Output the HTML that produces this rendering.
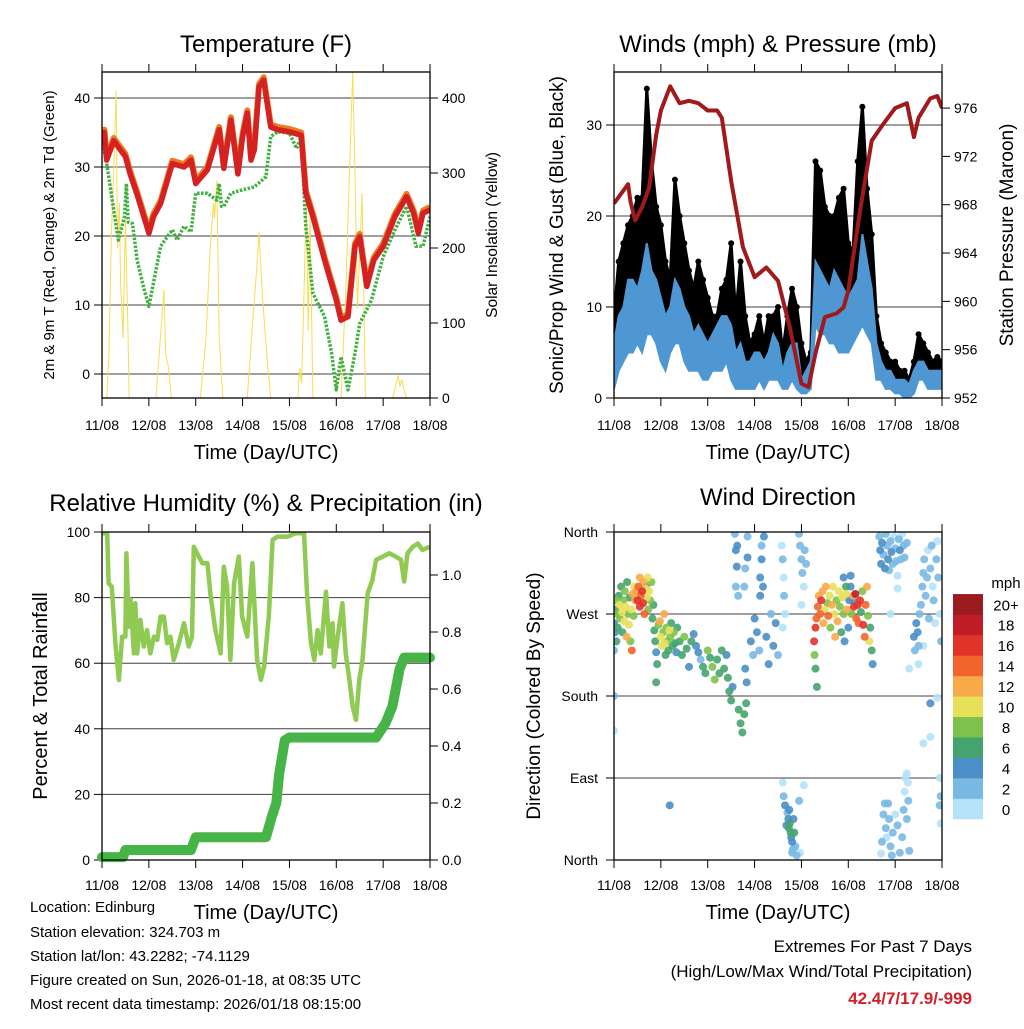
<!DOCTYPE html>
<html><head><meta charset="utf-8">
<style>
body{margin:0;background:#fff;}
svg text{font-family:"Liberation Sans",Arial,sans-serif;fill:#000;}
</style></head>
<body>
<svg id="fig" width="1024" height="1024" viewBox="0 0 1024 1024" xmlns="http://www.w3.org/2000/svg">
<rect width="1024" height="1024" fill="#fff"/>
<g id="p1"></g>
<g id="p2"></g>
<g id="p3"></g>
<g id="p4"></g>
<g font-size="24">
<text x="266" y="52" text-anchor="middle">Temperature (F)</text>
<text x="778" y="52" text-anchor="middle">Winds (mph) &amp; Pressure (mb)</text>
<text x="266" y="511" text-anchor="middle">Relative Humidity (%) &amp; Precipitation (in)</text>
<text x="778" y="505" text-anchor="middle">Wind Direction</text>
</g>
<g font-size="20">
<text x="266" y="459" text-anchor="middle">Time (Day/UTC)</text>
<text x="778" y="459" text-anchor="middle">Time (Day/UTC)</text>
<text x="266" y="919" text-anchor="middle">Time (Day/UTC)</text>
<text x="778" y="919" text-anchor="middle">Time (Day/UTC)</text>
</g>
<text transform="translate(54,235) rotate(-90)" font-size="15" text-anchor="middle">2m &amp; 9m T (Red, Orange) &amp; 2m Td (Green)</text>
<text transform="translate(497,235) rotate(-90)" font-size="15.5" text-anchor="middle">Solar Insolation (Yellow)</text>
<text transform="translate(563,235) rotate(-90)" font-size="19" text-anchor="middle">Sonic/Prop Wind &amp; Gust (Blue, Black)</text>
<text transform="translate(1013,235) rotate(-90)" font-size="19" text-anchor="middle">Station Pressure (Maroon)</text>
<text transform="translate(47,696) rotate(-90)" font-size="20" text-anchor="middle">Percent &amp; Total Rainfall</text>
<text transform="translate(540,696) rotate(-90)" font-size="19" text-anchor="middle">Direction (Colored By Speed)</text>
<g font-size="15">
<text x="30" y="912">Location: Edinburg</text>
<text x="30" y="937">Station elevation: 324.703 m</text>
<text x="30" y="961">Station lat/lon: 43.2282; -74.1129</text>
<text x="30" y="985">Figure created on Sun, 2026-01-18, at 08:35 UTC</text>
<text x="30" y="1009">Most recent data timestamp: 2026/01/18 08:15:00</text>
</g>
<g font-size="17" text-anchor="end">
<text x="972" y="952">Extremes For Past 7 Days</text>
<text x="972" y="977">(High/Low/Max Wind/Total Precipitation)</text>
<text x="972" y="1004" font-weight="bold" style="fill:#d0202a">42.4/7/17.9/-999</text>
</g>
</svg>
<script>
// ---------- DATA ----------
const dayLabels=["11/08","12/08","13/08","14/08","15/08","16/08","17/08","18/08"];
const tempTicks=[0,10,20,30,40];
const solarTicks=[0,100,200,300,400];
const tT=[0,0.05,0.1,0.25,0.5,0.6,0.75,1.0,1.1,1.25,1.5,1.75,1.9,2.0,2.25,2.5,2.6,2.75,2.9,3.0,3.1,3.18,3.25,3.35,3.45,3.6,3.75,4.0,4.25,4.35,4.5,4.75,5.0,5.1,5.25,5.4,5.5,5.65,5.8,6.0,6.25,6.5,6.65,6.75,6.85,7.0];
const tempVals=[33.2,35,31,33.8,31.5,29,26,20.4,22.8,24.7,30.5,30,31,27.6,29.6,35.4,29.8,36.8,29,34.4,37.8,31,32.5,41.6,42.6,35.8,35.4,35.1,34.6,26.2,22.8,16.5,10.7,7.8,8.3,18.5,19.9,12.7,16.5,18.5,22.8,25.7,23.3,20.4,23.3,23.8];
const tD=[0,0.1,0.25,0.35,0.48,0.52,0.56,0.65,0.75,0.9,1.0,1.25,1.5,1.6,1.75,1.9,2.0,2.25,2.45,2.5,2.55,2.6,2.75,3.0,3.25,3.5,3.6,3.75,4.0,4.15,4.25,4.35,4.5,4.75,4.9,5.0,5.1,5.25,5.4,5.5,5.75,6.0,6.25,6.5,6.7,6.85,7.0];
const dewVals=[33.9,30.5,23.8,19.4,22.8,27.6,22,21.8,16.5,12.2,9.8,18.5,20.9,19.4,21.4,20.6,26.2,26.2,25.2,27.6,24.3,24.3,26.2,26.7,27.1,28.6,34.4,35.1,34.9,32.7,34.4,21.4,11.7,8.3,3.0,-2.3,2.5,-2.3,3.0,7.3,10.7,17.0,20.9,24.3,18.5,18.5,22.8];
const tS=[0,0.1,0.15,0.2,0.25,0.3,0.33,0.37,0.4,0.45,0.5,0.55,0.58,1.15,1.2,1.28,1.32,1.36,1.42,1.48,2.1,2.22,2.3,2.38,2.4,2.45,2.5,2.58,3.1,3.2,3.3,3.35,3.42,3.5,3.6,4.18,4.22,4.26,4.32,4.36,4.4,4.44,4.5,5.1,5.2,5.28,5.35,5.4,5.45,5.55,5.62,6.2,6.28,6.32,6.36,6.4,6.45,6.5,7];
const solarVals=[0,0,60,220,300,410,200,260,150,80,240,100,0,0,40,110,144,60,40,0,0,80,190,260,240,290,80,0,0,90,170,221,140,70,0,0,40,20,160,273,90,240,0,0,140,300,435,300,120,273,0,0,20,30,15,25,10,0,0];

const windTicks=[0,10,20,30];
const presTicks=[952,956,960,964,968,972,976];
const tW=[0,0.1,0.2,0.3,0.4,0.5,0.6,0.7,0.8,0.9,1.0,1.1,1.2,1.3,1.4,1.5,1.6,1.7,1.8,1.9,2.0,2.1,2.2,2.3,2.4,2.5,2.6,2.7,2.8,2.9,3.0,3.1,3.2,3.3,3.4,3.5,3.6,3.7,3.8,3.9,4.0,4.1,4.2,4.3,4.4,4.5,4.6,4.7,4.8,4.9,5.0,5.1,5.2,5.3,5.4,5.5,5.6,5.7,5.8,5.9,6.0,6.1,6.2,6.3,6.4,6.5,6.6,6.7,6.8,6.9,7.0];
const windLo=[1,3,4,5,5,6,5,7,7,6,4,3,5,6,6,4,3,3,3,2,2,3,3,3,4,2,1,1,1,1,1,2,1,2,2,2,1,1,2,1,0.5,0.5,1,8,7,7,6,6,5,5,5,6,7,8,7,6,2,2,1,1,0.5,0.5,0,0,0.5,2,2,1,1,1,1];
const windHi=[6,9,10,13,13,12,14,17,14,13,11,9,10,13,12,10,9,7,8,7,6,7,8,9,9,8,5,6,4,4,5,5,4,5,7,6,3,5,6,6,2,3,4,15,14,13,12,14,13,12,11,12,13,18,15,12,6,4,3,3,2,2,2,1.5,3,4,4,3,3,3,3];
const gustHi=[9,15,17,19,20,22,22,34,26,21,19,15,13,24,20,17,14,12,15,13,11,9,9,12,13,17,9,15,9,6,7,9,6,9,9,10,5,9,12,10,6,4,5,26,25,21,20,20,22,23,17,16,26,32,23,18,9,6,5,4,4,3,3,2,4,7,6,5,4,4.5,4];
const tP=[0,0.15,0.3,0.35,0.45,0.6,0.75,0.9,1.0,1.2,1.4,1.6,1.8,2.0,2.2,2.3,2.5,2.75,3.0,3.25,3.5,3.75,4.0,4.15,4.3,4.5,4.75,4.9,5.0,5.25,5.5,5.75,6.0,6.25,6.4,6.5,6.75,6.9,7.0];
const presVals=[968.1,968.9,969.7,968.3,966.7,967.8,969.4,973.8,975.8,977.8,976.4,976.6,976.4,975.8,975.8,975.2,970,964.5,962,962.8,961.7,957.9,953.2,952.9,955.7,958.7,959,959.5,960.9,967.5,973.3,974.7,976,976.4,973.6,975.2,976.8,977,976];

const rhTicks=[0,20,40,60,80,100];
const rainTicks=["0.0","0.2","0.4","0.6","0.8","1.0"];
const tR=[0,0.11,0.14,0.21,0.29,0.36,0.43,0.5,0.52,0.57,0.61,0.68,0.71,0.75,0.82,0.89,0.96,1.03,1.11,1.18,1.25,1.32,1.39,1.46,1.53,1.64,1.75,1.85,1.92,1.96,2.03,2.14,2.25,2.32,2.42,2.53,2.6,2.67,2.74,2.82,2.92,2.99,3.1,3.21,3.31,3.39,3.46,3.56,3.64,3.74,3.96,4.13,4.31,4.38,4.46,4.53,4.6,4.67,4.78,4.85,4.92,4.95,5.03,5.13,5.2,5.27,5.35,5.42,5.49,5.56,5.67,5.77,5.85,5.99,6.13,6.27,6.38,6.45,6.52,6.63,6.74,6.84,6.99];
const rhVals=[99.6,99.6,84.4,83.3,65.1,54.9,68.1,68.1,93.5,71.1,79.3,63,78.3,63,73.2,65.1,70.1,63,68.1,67.1,74.2,74.2,66.1,68.1,61,66.1,72.2,65.1,68.1,95.5,93.5,90.5,90.5,80.3,70.1,63,89.4,83.3,61,84.4,92.5,74.2,68.1,90.5,61,54.9,59,74.2,97.6,98.6,98.6,99.6,99.6,80.3,66.1,61,70.1,63,81.8,65.1,72.2,59,68.1,78.3,63,55.9,46.8,42.7,54.9,61,81.3,85.4,91.5,92.5,93.5,92.5,91.5,84.9,93.5,95.5,96.5,94.5,95.5];
const tPr=[0,0.45,0.5,1.9,2.0,3.5,3.62,3.72,3.78,3.9,4.0,5.85,6.05,6.2,6.35,6.45,6.6,7.0];
const rainVals=[0.01,0.01,0.035,0.035,0.08,0.08,0.15,0.2,0.3,0.42,0.43,0.43,0.48,0.54,0.67,0.71,0.71,0.71];

const dirNames=["North","East","South","West","North"];
const dirTickVals=[0,90,180,270,360];
const spdLabels=["0","2","4","6","8","10","12","14","16","18","20+"];
const spdColors=["#b5e2f8","#7ab9e4","#4a8fc6","#45a46e","#7dc24c","#e8e05a","#f8a94a","#f2642c","#e0332a","#c01c25","#9b1b1f"];
const wdT=[0,0,0,0.0,0.02,0.03,0.05,0.07,0.08,0.1,0.12,0.13,0.15,0.17,0.18,0.2,0.22,0.23,0.25,0.27,0.28,0.3,0.32,0.33,0.35,0.37,0.38,0.4,0.42,0.43,0.45,0.05,
0.47,0.5,0.52,0.55,0.57,0.6,0.62,0.63,0.65,0.67,0.7,0.72,0.73,0.75,0.77,0.8,0.82,0.84,0.55,0.68,
0.86,0.88,0.9,0.92,0.95,0.98,1.0,1.02,1.05,1.07,1.08,1.1,1.12,1.14,1.16,1.18,1.2,1.22,1.25,1.28,1.3,1.33,1.35,0.9,1.19,
1.4,1.45,1.5,1.55,1.6,1.65,1.7,1.75,1.8,1.85,1.9,1.95,2.0,2.05,2.1,2.15,2.2,2.25,2.3,2.35,2.4,2.43,2.46,2.5,2.53,2.66,2.7,2.74,2.78,2.82,2.8,2.83,
2.58,2.6,2.62,2.6,2.63,2.65,2.85,2.8,2.78,2.85,
2.92,2.97,3.0,3.05,3.1,3.12,3.15,3.2,3.25,3.3,3.35,3.4,3.45,3.5,3.12,3.15,3.18,
3.58,3.6,3.62,3.63,3.65,3.6,
3.6,3.62,3.65,3.7,3.72,3.73,3.75,3.77,3.78,3.8,3.82,3.83,3.85,3.87,3.9,3.95,3.97,4.05,3.68,3.74,3.8,
3.95,3.97,4.0,4.02,4.05,4.07,4.1,4.0,
4.27,4.28,4.3,4.3,4.32,4.33,4.35,4.37,4.4,4.42,4.45,4.47,4.5,4.52,4.55,4.57,4.6,4.62,4.65,4.67,4.7,4.72,4.75,4.77,4.8,4.82,4.85,4.87,4.9,4.92,4.95,4.97,5.0,5.02,5.05,5.07,5.1,5.12,5.15,5.17,5.2,5.22,5.25,5.27,5.3,5.32,5.35,5.37,5.4,5.42,5.45,5.47,5.5,5.52,4.9,4.95,5.05,5.1,
5.66,5.68,5.7,5.72,5.75,5.78,5.8,5.83,5.85,5.87,5.9,5.92,5.95,5.98,6.0,6.02,6.05,6.08,6.1,6.12,6.15,6.18,6.2,6.25,5.9,6.05,
5.7,5.72,5.75,5.78,5.8,5.82,5.85,5.87,5.9,5.93,5.95,6.0,6.05,6.1,6.15,6.18,6.2,6.22,6.25,6.28,6.3,6.27,6.25,
6.3,6.4,6.42,6.45,6.48,6.5,6.52,6.55,6.58,6.6,6.62,6.65,6.68,6.7,6.72,6.75,6.78,6.8,6.82,6.85,6.88,6.9,6.92,6.95,6.98,6.6,6.5,6.75,6.75,6.9,6.95,6.97,6.97,6.95,6.6];
const wdDir=[230,180,142,260,250,275,285,270,255,290,280,265,300,272,250,285,262,295,278,245,305,270,258,288,240,275,230,292,268,300,285,240,
295,285,300,278,290,295,282,305,270,298,288,310,275,295,285,305,265,280,310,300,
252,240,228,215,258,262,245,235,250,270,238,225,255,240,230,252,245,260,235,250,238,228,255,195,60,
240,225,245,232,212,240,248,235,228,220,212,205,230,222,212,198,220,205,230,210,225,200,185,175,190,165,150,140,160,172,210,195,
358,340,322,300,345,290,355,320,300,332,
240,225,265,250,230,290,330,355,245,215,270,235,260,225,310,345,300,
345,330,310,290,270,255,
85,70,60,52,45,35,40,30,25,20,12,45,30,15,5,65,8,82,38,55,8,
358,345,330,315,300,340,325,280,
240,225,210,255,265,190,278,290,270,285,295,260,275,300,282,268,290,255,280,300,270,245,285,262,295,278,250,288,270,240,292,275,255,285,300,270,290,278,292,265,280,260,285,272,295,258,245,280,300,268,240,255,230,215,310,300,312,285,
355,340,325,348,335,320,358,345,330,318,350,338,325,355,342,328,312,352,340,330,358,345,332,348,270,298,
7,20,50,62,35,25,62,45,15,5,30,50,38,8,25,55,75,90,45,65,10,85,95,
210,245,230,260,250,235,270,280,300,315,330,290,310,340,265,320,345,300,285,260,330,350,310,270,240,235,215,172,135,178,60,40,70,90,128];
const wdSpd=[2,2,1,4,4,6,8,9,7,6,10,8,7,10,6,9,11,8,10,12,6,8,10,7,9,11,14,12,8,10,12,6,
13,16,15,17,14,17,16,12,15,11,10,10,9,11,8,8,7,6,13,6,
6,6,5,6,8,13,10,11,9,12,10,7,9,8,6,10,8,6,7,8,6,5,7,6,4,
6,7,8,6,5,6,5,4,5,3,6,7,8,6,8,9,7,6,6,6,4,7,6,7,5,6,7,6,6,7,4,4,
2,4,4,3,5,2,2,3,2,4,
4,3,4,4,3,4,4,4,5,4,3,4,4,3,4,3,4,
1,2,1,2,1,1,
1,2,4,3,5,6,7,6,5,4,3,4,6,2,2,2,1,1,4,4,2,
2,3,2,3,1,2,2,1,
16,8,6,17,14,6,15,12,14,16,13,12,10,12,9,15,10,9,12,10,11,13,8,12,10,9,7,11,8,4,10,12,5,5,4,8,12,16,18,15,17,14,16,7,9,16,14,15,12,8,10,6,7,4,4,6,4,4,
3,4,4,4,3,4,3,2,4,3,2,4,2,1,2,3,1,2,4,3,1,2,3,2,1,1,
1,3,2,3,2,1,2,3,2,3,2,1,2,2,3,2,1,1,2,2,3,1,1,
1,4,3,4,4,3,2,2,3,2,2,3,2,1,2,3,2,1,2,1,2,1,2,1,2,1,1,4,1,1,2,1,2,1,1];

// ---------- HELPERS ----------
const NS="http://www.w3.org/2000/svg";
function mk(parent,tag,attrs){const e=document.createElementNS(NS,tag);for(const k in attrs)e.setAttribute(k,attrs[k]);parent.appendChild(e);return e;}
function txt(parent,x,y,s,anchor,size){const t=mk(parent,"text",{x:x,y:y,"text-anchor":anchor,"font-size":size});t.textContent=s;return t;}
const DAYW=46.86;
function frame(g,x0,y0,x1,y1,xlabY){
  for(let i=0;i<dayLabels.length;i++){
    const x=x0+i*DAYW;
    const tk=mk(g,"line",{x1:x,y1:y1,x2:x,y2:y1+8,stroke:"#000","stroke-width":1});
    
    
    mk(g,"line",{x1:x,y1:y0,x2:x,y2:y0-8,stroke:"#000","stroke-width":1});
    const t=txt(g,x,xlabY,dayLabels[i],"middle",14);
    
    
  }
}
function border(g,x0,y0,x1,y1){const r=mk(g,"rect",{x:x0,y:y0,width:x1-x0,height:y1-y0,fill:"none",stroke:"#000","stroke-width":1.3});}
function grid(g,x0,x1,y){mk(g,"line",{x1:x0,y1:y,x2:x1,y2:y,stroke:"#000","stroke-width":1,"stroke-opacity":0.75});}
function path(pts){return pts.map((p,i)=>(i?"L":"M")+p[0].toFixed(1)+","+p[1].toFixed(1)).join("");}

// ---------- PANEL 1 ----------
(function(){
  const g=document.getElementById("p1");
  const x0=102,x1=430,y0=72,y1=398;
  const X=d=>x0+d*DAYW, YT=v=>374-v*6.9, YS=v=>398-v*0.75;
  const clip=mk(g,"clipPath",{id:"c1"});mk(clip,"rect",{x:x0,y:y0,width:x1-x0,height:y1-y0});
  tempTicks.forEach(v=>{grid(g,x0,x1,YT(v));mk(g,"line",{x1:x0-8,y1:YT(v),x2:x0,y2:YT(v),stroke:"#000"});
    const t=txt(g,x0-12,YT(v)+5,String(v),"end",14);});
  solarTicks.forEach(v=>{mk(g,"line",{x1:x1,y1:YS(v),x2:x1+8,y2:YS(v),stroke:"#000"});
    const t=txt(g,x1+12,YS(v)+5,String(v),"start",14);});
  const cg=mk(g,"g",{"clip-path":"url(#c1)"});
  const s=mk(cg,"path",{d:path(tS.map((t,i)=>[X(t),YS(solarVals[i])])),fill:"none",stroke:"#f8dc50","stroke-width":1});
  
  const o=mk(cg,"path",{d:path(tT.map((t,i)=>[X(t),YT(tempVals[i]+0.4)])),fill:"none",stroke:"#f07a22","stroke-width":6,"stroke-linejoin":"round"});
  
  const dw=mk(cg,"path",{d:path(tD.map((t,i)=>[X(t),YT(dewVals[i])])),fill:"none",stroke:"#44b044","stroke-width":3.5,"stroke-dasharray":"2.5 1.5","stroke-linejoin":"round"});
  
  const r=mk(cg,"path",{d:path(tT.map((t,i)=>[X(t),YT(tempVals[i])])),fill:"none",stroke:"#d42222","stroke-width":5.5,"stroke-linejoin":"round"});
  
  border(g,x0,y0,x1,y1);frame(g,x0,y0,x1,y1,430);
})();

// ---------- PANEL 2 ----------
(function(){
  const g=document.getElementById("p2");
  const x0=614,x1=942,y0=72,y1=398;
  const X=d=>x0+d*DAYW, YW=v=>398-v*9.1, YP=p=>398-(p-952)*12.08;
  const clip=mk(g,"clipPath",{id:"c2"});mk(clip,"rect",{x:x0,y:y0,width:x1-x0,height:y1-y0});
  windTicks.forEach(v=>{grid(g,x0,x1,YW(v));mk(g,"line",{x1:x0-8,y1:YW(v),x2:x0,y2:YW(v),stroke:"#000"});
    const t=txt(g,x0-12,YW(v)+5,String(v),"end",14);});
  presTicks.forEach(v=>{mk(g,"line",{x1:x1,y1:YP(v),x2:x1+8,y2:YP(v),stroke:"#000"});
    const t=txt(g,x1+12,YP(v)+5,String(v),"start",14);});
  const cg=mk(g,"g",{"clip-path":"url(#c2)"});
  const top=tW.map((t,i)=>[X(t),YW(gustHi[i])]);
  const mid=tW.map((t,i)=>[X(t),YW(windHi[i]*0.85)]).reverse();
  const gp=mk(cg,"path",{d:path(top.concat(mid))+"Z",fill:"#000",stroke:"#000","stroke-width":3,"stroke-linejoin":"round"});
  
  tW.forEach((t,i)=>{const c=mk(cg,"circle",{cx:X(t),cy:YW(gustHi[i]),r:3,fill:"#000"});
    });
  const hi=tW.map((t,i)=>[X(t),YW(windHi[i])]);
  const lo=tW.map((t,i)=>[X(t),YW(windLo[i])]).reverse();
  const bp=mk(cg,"path",{d:path(hi.concat(lo))+"Z",fill:"#4f97d2",stroke:"#4f97d2","stroke-width":2});
  
  const pl=mk(cg,"path",{d:path(tP.map((t,i)=>[X(t),YP(presVals[i])])),fill:"none",stroke:"#a01a1c","stroke-width":4,"stroke-linejoin":"round"});
  
  border(g,x0,y0,x1,y1);frame(g,x0,y0,x1,y1,430);
})();

// ---------- PANEL 3 ----------
(function(){
  const g=document.getElementById("p3");
  const x0=102,x1=430,y0=532,y1=860;
  const X=d=>x0+d*DAYW, YR=v=>860-v*3.28, YPr=v=>860-v*285;
  const clip=mk(g,"clipPath",{id:"c3"});mk(clip,"rect",{x:x0-6,y:y0,width:x1-x0+12,height:y1-y0+6});
  rhTicks.forEach(v=>{if(v>0&&v<100)grid(g,x0,x1,YR(v));mk(g,"line",{x1:x0-8,y1:YR(v),x2:x0,y2:YR(v),stroke:"#000"});
    const t=txt(g,x0-12,YR(v)+5,String(v),"end",14);});
  rainTicks.forEach(v=>{const y=YPr(parseFloat(v));mk(g,"line",{x1:x1,y1:y,x2:x1+8,y2:y,stroke:"#000"});
    const t=txt(g,x1+12,y+5,v,"start",14);});
  const cg=mk(g,"g",{"clip-path":"url(#c3)"});
  const rh=mk(cg,"path",{d:path(tR.map((t,i)=>[X(t),YR(rhVals[i])])),fill:"none",stroke:"#8fca52","stroke-width":4.5,"stroke-linejoin":"round"});
  
  const pr=mk(cg,"path",{d:path(tPr.map((t,i)=>[X(t),YPr(rainVals[i])])),fill:"none",stroke:"#47b447","stroke-width":10,"stroke-linejoin":"round","stroke-linecap":"round"});
  
  border(g,x0,y0,x1,y1);frame(g,x0,y0,x1,y1,890);
})();

// ---------- PANEL 4 ----------
(function(){
  const g=document.getElementById("p4");
  const x0=614,x1=942,y0=532,y1=860;
  const X=d=>x0+d*DAYW, YD=d=>860-d*328/360;
  dirTickVals.forEach((v,i)=>{if(v>0&&v<360)grid(g,x0,x1,YD(v));mk(g,"line",{x1:x0-8,y1:YD(v),x2:x0,y2:YD(v),stroke:"#000"});
    const t=txt(g,x0-16,YD(v)+5,dirNames[i],"end",14);});
  const clip=mk(g,"clipPath",{id:"c4"});mk(clip,"rect",{x:x0,y:y0,width:x1-x0,height:y1-y0});
  const cg=mk(g,"g",{"clip-path":"url(#c4)"});
  const order=wdT.map((t,i)=>i).sort((a,b)=>wdSpd[a]-wdSpd[b]);
  order.forEach(i=>{
    const bin=Math.min(10,Math.floor(wdSpd[i]/2));
    const c=mk(cg,"circle",{cx:X(wdT[i]),cy:YD(wdDir[i]),r:4,fill:spdColors[bin],"fill-opacity":0.9});
    
    
  });
  border(g,x0,y0,x1,y1);frame(g,x0,y0,x1,y1,890);
  const cb=mk(g,"g",{});
  
  
  const bh=20.45, by=819;
  spdColors.forEach((c,i)=>{
    mk(cb,"rect",{x:953,y:by-(i+1)*bh,width:30,height:bh+0.3,fill:c});
    const t=txt(cb,1006,by-i*bh-bh/2+6,spdLabels[i],"middle",15);
    
    
  });
  const u=txt(cb,1006,588,"mph","middle",15);
  
  
})();
</script>
</body></html>
